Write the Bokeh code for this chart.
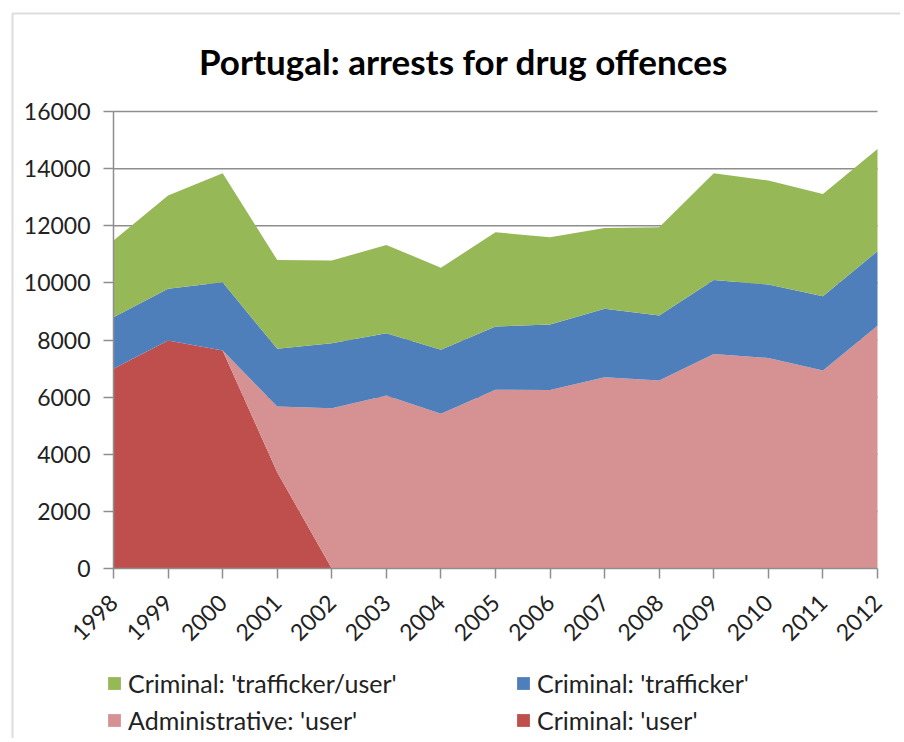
from bokeh.plotting import figure
from bokeh.models import (Legend, LegendItem, FixedTicker, ColumnDataSource, Range1d,
                          BoxAnnotation, LinearAxis, Label)
from bokeh.embed import file_html
from bokeh.resources import INLINE
import math

years = [1998, 1999, 2000, 2001, 2002, 2003, 2004, 2005, 2006, 2007, 2008, 2009, 2010, 2011, 2012]
year_labels = [str(y) for y in years]
criminal_user = [6990, 7980, 7630, 3370, 0, 0, 0, 0, 0, 0, 0, 0, 0, 0, 0]
admin_user = [0, 0, 0, 2300, 5610, 6060, 5420, 6260, 6250, 6700, 6580, 7510, 7370, 6930, 8500]
criminal_trafficker = [1810, 1810, 2390, 2020, 2280, 2180, 2240, 2210, 2290, 2390, 2280, 2590, 2570, 2600, 2610]
criminal_trafficker_user = [2680, 3270, 3820, 3110, 2890, 3090, 2870, 3300, 3060, 2830, 3090, 3740, 3640, 3580, 3580]
y_ticks = [0, 2000, 4000, 6000, 8000, 10000, 12000, 14000, 16000]
title_text = "Portugal: arrests for drug offences"

series_names = ["Criminal: 'user'", "Administrative: 'user'", "Criminal: 'trafficker'", "Criminal: 'trafficker/user'"]
keys = ["cu", "au", "ct", "ctu"]
colors = ["#BE4F4C", "#D69292", "#4E7FBB", "#97B857"]

# ---- layout (pixels) ----
W, H = 900, 738
PX_LEFT, PX_RIGHT, PX_TOP, PX_BOTTOM = 113, 877, 111, 568   # plot area in pixels
x0, x1 = years[0], years[-1]
y0, y1 = y_ticks[0], y_ticks[-1]
kx = (PX_RIGHT - PX_LEFT) / (x1 - x0)
ky = (PX_BOTTOM - PX_TOP) / (y1 - y0)
def dx(px):
    return x0 + (px - PX_LEFT) / kx
def dy(py):
    return y0 + (PX_BOTTOM - py) / ky

source = ColumnDataSource(dict(x=years, cu=criminal_user, au=admin_user,
                               ct=criminal_trafficker, ctu=criminal_trafficker_user))

p = figure(width=W, height=H, output_backend="svg", toolbar_location=None,
           x_range=Range1d(dx(0), dx(W)), y_range=Range1d(dy(H), dy(0)),
           x_axis_location=None, y_axis_location=None, title=None,
           min_border=0)
p.outline_line_color = None
p.background_fill_color = "white"
p.border_fill_color = "white"
p.xgrid.visible = False
p.ygrid.visible = False

GRID = "#8E8E8E"
# horizontal gridlines at the y ticks
p.segment(x0=[x0] * (len(y_ticks) - 1), x1=[x1] * (len(y_ticks) - 1),
          y0=y_ticks[1:], y1=y_ticks[1:], line_color=GRID, line_width=1.5)

rs = p.varea_stack(stackers=keys, x="x", color=colors, source=source)

FONT = "Lato"
yaxis = LinearAxis(fixed_location=x0, bounds=(y0, y1), ticker=FixedTicker(ticks=y_ticks))
xaxis = LinearAxis(fixed_location=y0, bounds=(x0, x1), ticker=FixedTicker(ticks=years),
                   major_label_overrides={y: l for y, l in zip(years, year_labels)},
                   major_label_orientation=math.pi / 4)
p.add_layout(yaxis, "left")
p.add_layout(xaxis, "below")
for ax in (xaxis, yaxis):
    ax.axis_line_color = GRID
    ax.axis_line_width = 1.5
    ax.major_tick_line_color = GRID
    ax.major_tick_line_width = 1.5
    ax.major_tick_out = 10
    ax.major_tick_in = 0
    ax.minor_tick_line_color = None
    ax.major_label_text_font = FONT
    ax.major_label_text_font_size = "23px"
    ax.major_label_text_color = "#222222"
yaxis.major_label_standoff = 13
xaxis.major_label_standoff = 20

title = Label(x=dx(463), y=dy(60), text=title_text, text_align="center",
              text_baseline="middle", text_font=FONT, text_font_size="35px",
              text_font_style="bold", text_color="#000000")
p.add_layout(title)

items = [LegendItem(label=series_names[3], renderers=[rs[3]]),
         LegendItem(label=series_names[2], renderers=[rs[2]]),
         LegendItem(label=series_names[1], renderers=[rs[1]]),
         LegendItem(label=series_names[0], renderers=[rs[0]])]
legend = Legend(items=items, orientation="horizontal", ncols=2,
                location=(106, H - 737), margin=0, padding=0,
                glyph_width=16, glyph_height=16, label_standoff=6,
                label_width=384, label_height=34, spacing=3,
                label_text_font=FONT, label_text_font_size="25px", label_text_color="#222222",
                border_line_color=None, background_fill_alpha=0)
p.add_layout(legend)

frame_box = BoxAnnotation(left=dx(12), right=dx(W + 20), top=dy(13), bottom=dy(H + 20),
                          fill_alpha=0, line_color=GRID, line_width=2)
p.add_layout(frame_box)

open("out.html", "w").write(file_html(p, INLINE))
